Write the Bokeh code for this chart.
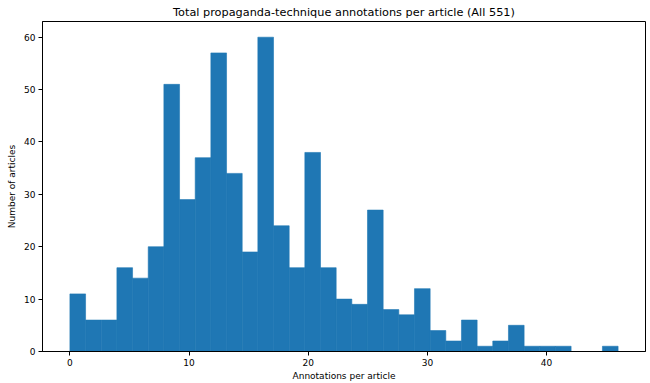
import numpy as np
from bokeh.plotting import figure
from bokeh.models import FixedTicker, Range1d, ColumnDataSource
from bokeh.embed import file_html
from bokeh.resources import INLINE

# Histogram: 35 bins spanning 0..46 annotations per article
bin_min = 0
bin_max = 46
n_bins = 35
counts = [11, 6, 6, 16, 14, 20, 51, 29, 37, 57, 34, 19, 60, 24, 16, 38, 16, 10,
          9, 27, 8, 7, 12, 4, 2, 6, 1, 2, 5, 1, 1, 1, 0, 0, 1]
x_ticks = [0, 10, 20, 30, 40]
y_ticks = [0, 10, 20, 30, 40, 50, 60]

edges = np.linspace(bin_min, bin_max, n_bins + 1)
src = ColumnDataSource(dict(left=edges[:-1], right=edges[1:], top=counts,
                            bottom=[0] * len(counts)))

span = bin_max - bin_min
p = figure(width=650, height=383, output_backend="svg", toolbar_location=None,
           title="Total propaganda-technique annotations per article (All 551)",
           x_range=Range1d(bin_min - 0.05 * span, bin_max + 0.05 * span),
           y_range=Range1d(0, max(counts) * 1.05),
           min_border=0, min_border_left=42, min_border_right=5,
           min_border_top=0, min_border_bottom=31)

p.quad(left="left", right="right", top="top", bottom="bottom", source=src,
       fill_color="#1f77b4", line_color="#1f77b4", line_width=0.6)

font = "DejaVu Sans"
p.title.text_font = font
p.title.text_font_size = "11.3px"
p.title.text_font_style = "normal"
p.title.align = "center"
p.title.text_color = "black"
p.title.standoff = 6

p.xgrid.visible = False
p.ygrid.visible = False
p.outline_line_color = "black"
p.outline_line_width = 1
p.outline_line_alpha = 1

p.xaxis.axis_label = "Annotations per article"
p.yaxis.axis_label = "Number of articles"
p.xaxis.ticker = FixedTicker(ticks=x_ticks)
p.yaxis.ticker = FixedTicker(ticks=y_ticks)
for ax in (p.xaxis[0], p.yaxis[0]):
    ax.axis_label_text_font = font
    ax.axis_label_text_font_size = "9px"
    ax.axis_label_text_font_style = "normal"
    ax.axis_label_text_color = "black"
    ax.major_label_text_font = font
    ax.major_label_text_font_size = "9px"
    ax.major_label_text_color = "black"
    ax.major_tick_out = 4
    ax.major_tick_in = 0
    ax.minor_tick_out = 0
    ax.minor_tick_in = 0
    ax.major_label_standoff = 3
    ax.axis_line_color = "black"
    ax.major_tick_line_color = "black"
p.xaxis[0].axis_label_standoff = 2
p.yaxis[0].axis_label_standoff = 4

open("out.html", "w").write(file_html(p, INLINE))
